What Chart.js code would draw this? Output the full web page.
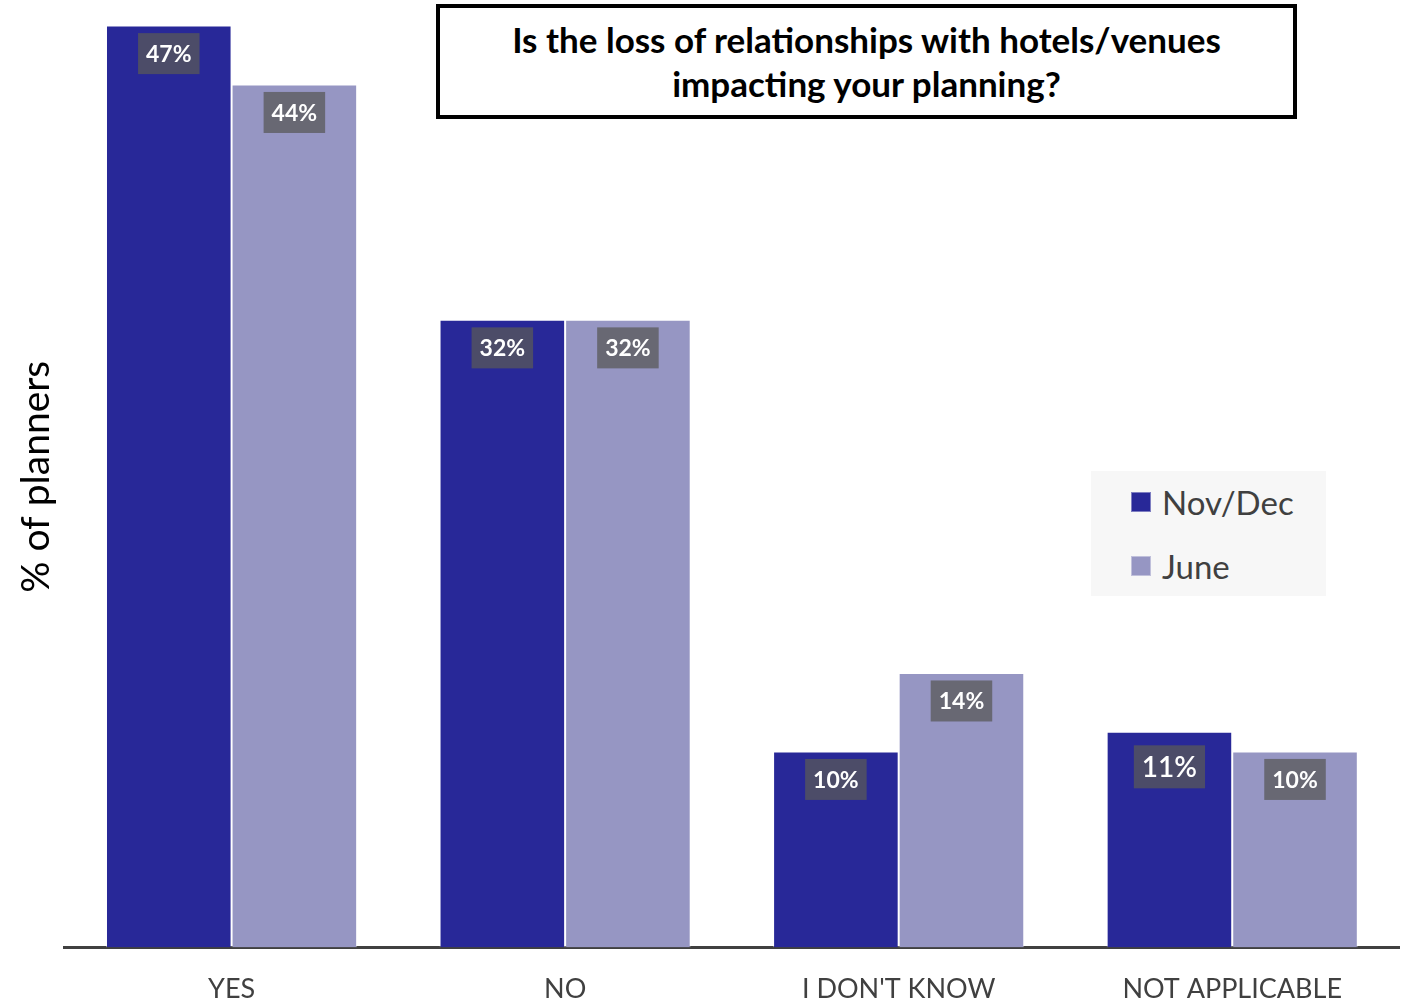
<!DOCTYPE html>
<html>
<head>
<meta charset="utf-8">
<title>Loss of relationships with hotels/venues</title>
<script src="https://cdn.jsdelivr.net/npm/chart.js@4.4.1/dist/chart.umd.min.js"></script>
<style>
  html, body { margin: 0; padding: 0; background: #fff; overflow: hidden; }
  .wrap { position: relative; width: 1406px; height: 1030px; }
  #myChart { position: absolute; left: 0; top: 0; }
  .question {
    position: absolute; left: 436px; top: 4px; width: 861px; height: 115px;
    box-sizing: border-box; border: 4px solid #000; background: #fff;
    font-family: Lato, sans-serif; font-weight: bold; font-size: 35px;
    line-height: 44px; text-align: center; padding-top: 9px; color: #000;
  }
  .legend {
    position: absolute; left: 1091px; top: 471px; width: 235px; height: 125px;
    background: #f7f7f7; font-family: Lato, sans-serif; font-size: 33px; color: #404040;
  }
  .legend-item { position: absolute; left: 40px; height: 40px; display: flex; align-items: center; }
  .legend-item span.box { width: 20px; height: 20px; margin-right: 11px; box-sizing: border-box; border: 1px solid rgba(255,255,255,0.4); }
</style>
</head>
<body>
<div class="wrap">
  <canvas id="myChart" width="1406" height="1030"></canvas>
  <div class="question">Is the loss of relationships with hotels/venues<br>impacting your planning?</div>
  <div class="legend"></div>
</div>
<script>
const categories = ["YES", "NO", "I DON'T KNOW", "NOT APPLICABLE"];
const novDec = [47, 32, 10, 11];
const june = [44, 32, 14, 10];
const seriesNames = ["Nov/Dec", "June"];
const yMax = 48;

const ctx = document.getElementById("myChart");
const legendBox = document.querySelector(".legend");

// grey value boxes sitting just inside the top of every bar
const valueBoxes = {
  id: "valueBoxes",
  afterDatasetsDraw(chart) {
    const c = chart.ctx;
    chart.data.datasets.forEach((ds, di) => {
      chart.getDatasetMeta(di).data.forEach((bar, i) => {
        // the Nov/Dec "not applicable" label is set a bit larger
        const big = di === 0 && i === 3;
        const size = big ? 28 : 23;
        const text = ds.data[i] + "%";
        c.save();
        c.font = (big ? "600 " : "bold ") + size + "px Lato";
        const w = c.measureText(text).width + 16;
        const h = big ? 43 : 41;
        const cy = bar.y + (big ? 35 : 28);
        c.fillStyle = "rgba(88,88,88,0.75)";
        c.fillRect(bar.x - w / 2, cy - h / 2, w, h);
        c.fillStyle = "#fff";
        c.textAlign = "center";
        c.textBaseline = "middle";
        c.fillText(text, bar.x, cy + 1);
        c.restore();
      });
    });
  },
};

const chart = new Chart(ctx, {
  type: "bar",
  data: {
    labels: categories,
    datasets: [
      {
        label: seriesNames[0],
        data: novDec,
        backgroundColor: "#282898",
        borderColor: "rgba(255,255,255,0.4)",
        borderWidth: 1,
        categoryPercentage: 0.753,
        barPercentage: 1,
      },
      {
        label: seriesNames[1],
        data: june,
        backgroundColor: "#9696c3",
        borderColor: "rgba(255,255,255,0.4)",
        borderWidth: 1,
        categoryPercentage: 0.753,
        barPercentage: 1,
      },
    ],
  },
  options: {
    responsive: false,
    animation: false,
    layout: { padding: { top: 6, right: 7, left: 0, bottom: 0 } },
    plugins: {
      legend: { display: false },
      tooltip: { enabled: false },
    },
    scales: {
      x: {
        grid: { display: false, drawTicks: false },
        border: { display: true, color: "#404040", width: 3 },
        ticks: { color: "#404040", font: { family: "Lato", size: 27 }, padding: 25 },
      },
      y: {
        min: 0,
        max: yMax,
        grid: { display: false, drawTicks: false },
        border: { display: false },
        ticks: { display: false },
        title: {
          display: true,
          text: "% of planners",
          color: "#000",
          font: { family: "Lato", size: 39 },
          padding: { top: 13, bottom: 5 },
        },
      },
    },
  },
  plugins: [valueBoxes],
});

// html legend from the chart's datasets
chart.data.datasets.forEach((ds, i) => {
  const item = document.createElement("div");
  item.className = "legend-item";
  item.style.top = 11 + i * 64 + "px";
  const box = document.createElement("span");
  box.className = "box";
  box.style.background = ds.backgroundColor;
  const label = document.createElement("span");
  label.textContent = ds.label;
  item.appendChild(box);
  item.appendChild(label);
  legendBox.appendChild(item);
});
</script>
</body>
</html>
